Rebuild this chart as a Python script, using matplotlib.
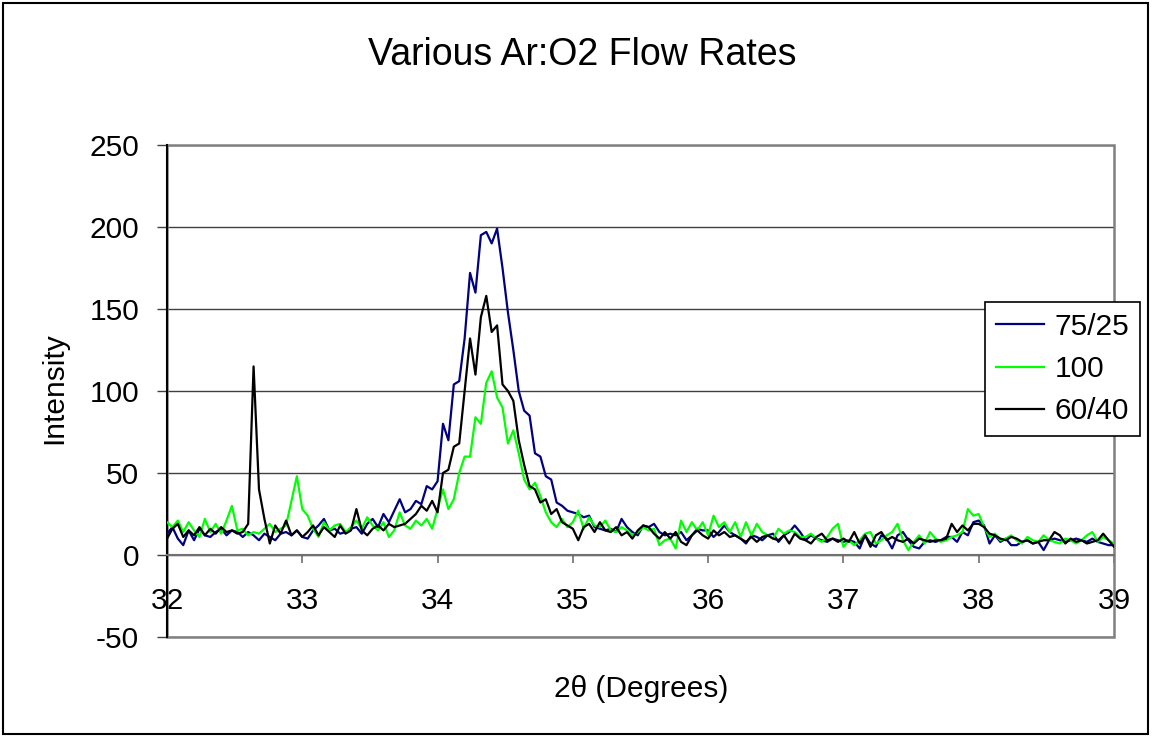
import numpy as np
import matplotlib
matplotlib.use("Agg")
import matplotlib.pyplot as plt
from matplotlib.patches import Rectangle

# XRD scans, 2theta from 32 to 39 deg, one row per degree (25 steps of 0.04)
SCAN_START = 32.0
SCAN_STEP = 0.04

flow_75_25 = [
    13, 17, 10, 6, 15, 9, 16, 12, 11, 14, 16, 12, 15, 14, 11, 14, 12, 9, 13, 11, 9, 13, 14, 12, 15,
    11, 10, 15, 18, 22, 15, 16, 13, 14, 16, 17, 13, 19, 22, 17, 25, 20, 27, 34, 26, 28, 33, 31, 42, 40,
    45, 80, 70, 104, 106, 132, 172, 160, 195, 197, 190, 199, 175, 148, 125, 100, 88, 85, 62, 60, 48, 46, 32, 30, 27,
    26, 25, 23, 24, 17, 16, 15, 16, 14, 22, 17, 14, 12, 18, 17, 19, 14, 12, 13, 12, 14, 9, 12, 16, 15,
    15, 11, 14, 18, 14, 12, 10, 7, 12, 11, 9, 12, 13, 8, 12, 14, 18, 14, 9, 12, 10, 9, 8, 10, 9,
    8, 9, 8, 4, 12, 7, 5, 12, 10, 4, 12, 14, 9, 5, 4, 8, 9, 8, 9, 11, 11, 8, 14, 12, 20,
    21, 18, 7, 12, 8, 10, 6, 6, 8, 9, 7, 8, 3, 9, 10, 9, 8, 9, 10, 9, 8, 10, 8, 7, 6,
    6,
]

flow_100 = [
    20, 17, 21, 14, 20, 15, 11, 22, 14, 19, 13, 21, 30, 15, 16, 12, 14, 13, 16, 19, 14, 16, 18, 33, 48,
    28, 24, 16, 11, 20, 15, 18, 19, 14, 17, 21, 16, 23, 18, 15, 20, 11, 15, 26, 18, 16, 21, 18, 22, 16,
    28, 40, 28, 34, 50, 60, 60, 84, 80, 105, 112, 96, 90, 68, 76, 62, 46, 40, 44, 36, 26, 20, 17, 22, 17,
    20, 27, 16, 23, 18, 17, 21, 15, 14, 17, 15, 12, 14, 17, 15, 16, 6, 9, 10, 4, 21, 14, 20, 15, 20,
    12, 24, 17, 20, 14, 20, 11, 20, 12, 19, 14, 12, 10, 16, 13, 15, 14, 11, 11, 13, 10, 8, 11, 16, 19,
    5, 9, 6, 9, 13, 14, 7, 9, 12, 14, 19, 9, 3, 8, 12, 7, 14, 10, 8, 9, 11, 12, 14, 28, 24,
    25, 17, 11, 13, 9, 10, 12, 9, 7, 11, 9, 8, 12, 9, 8, 7, 10, 9, 7, 9, 12, 14, 8, 11, 9,
    7,
]

flow_60_40 = [
    10, 16, 19, 11, 15, 12, 17, 12, 16, 13, 17, 14, 15, 13, 14, 19, 115, 40, 22, 7, 18, 13, 21, 12, 15,
    11, 14, 18, 12, 17, 14, 11, 18, 13, 15, 28, 15, 12, 16, 18, 15, 19, 17, 18, 19, 22, 25, 30, 27, 33,
    26, 50, 52, 66, 68, 100, 132, 110, 145, 158, 136, 140, 104, 100, 94, 70, 55, 42, 40, 32, 34, 25, 28, 20, 18,
    16, 9, 17, 19, 14, 20, 15, 14, 17, 12, 14, 10, 15, 18, 17, 13, 10, 14, 10, 14, 8, 6, 12, 15, 12,
    10, 15, 12, 14, 11, 12, 10, 8, 11, 8, 11, 12, 10, 9, 12, 7, 13, 10, 9, 7, 11, 13, 9, 10, 8,
    10, 8, 14, 7, 12, 5, 12, 14, 9, 11, 9, 8, 10, 7, 10, 9, 8, 9, 9, 10, 19, 14, 18, 15, 19,
    19, 17, 13, 12, 10, 9, 11, 10, 8, 9, 7, 8, 9, 9, 14, 12, 7, 10, 8, 9, 7, 8, 9, 13, 9,
    5,
]

series_labels = ["75/25", "100", "60/40"]
series_colors = ["#000080", "#00ff00", "#000000"]

x_ticks = [32, 33, 34, 35, 36, 37, 38, 39]
y_ticks = [-50, 0, 50, 100, 150, 200, 250]

W, H = 1152, 738


def px_x(x):
    return x / W


def px_y(y):
    return 1 - y / H


def main():
    plt.rcParams["font.family"] = ["Liberation Sans", "DejaVu Sans"]
    plt.rcParams["axes.unicode_minus"] = False
    fig = plt.figure(figsize=(W / 100, H / 100), dpi=100)
    fig.patch.set_facecolor("white")

    # outer chart frame
    fig.patches.append(Rectangle((px_x(3), px_y(734)), px_x(1145), 731 / H,
                                 transform=fig.transFigure, fill=False,
                                 ec="black", lw=1.5))

    ax = fig.add_axes([px_x(167), px_y(637), (1114 - 167) / W, (637 - 145) / H])
    two_theta = SCAN_START + SCAN_STEP * np.arange(len(flow_75_25))

    for values, label, color in zip([flow_75_25, flow_100, flow_60_40], series_labels, series_colors):
        ax.plot(two_theta, values, color=color, lw=1.6, label=label, zorder=3)

    ax.set_xlim(32, 39)
    ax.set_ylim(-50, 250)
    ax.set_xticks(x_ticks)
    ax.set_yticks(y_ticks)
    ax.yaxis.grid(True, color="#404040", lw=1.0)
    ax.set_axisbelow(True)

    # plot area border in grey, value axis in black, category axis crosses at 0
    ax.add_patch(Rectangle((0, 0), 1, 1, transform=ax.transAxes, fill=False,
                           ec="#808080", lw=1.8, zorder=2.4, clip_on=False))
    for side in ("top", "right"):
        ax.spines[side].set_visible(False)
    ax.spines["left"].set_color("black")
    ax.spines["left"].set_linewidth(1.5)
    ax.spines["bottom"].set_position(("data", 0))
    ax.spines["bottom"].set_color("#707070")
    ax.spines["bottom"].set_linewidth(1.5)

    ax.tick_params(axis="x", direction="out", length=6, width=1.2, color="#707070",
                   labelsize=21.5, pad=17)
    ax.tick_params(axis="y", direction="out", length=7, width=1.0, color="#404040",
                   labelsize=21.5, pad=13)

    fig.text(px_x(582), px_y(65), "Various Ar:O2 Flow Rates", ha="center", va="baseline",
             fontsize=27)
    fig.text(px_x(54), px_y(388), "Intensity", rotation=90, ha="center", va="center",
             fontsize=21.5)
    fig.text(px_x(641), px_y(689), "2θ (Degrees)", ha="center", va="center", fontsize=21.5)

    leg = ax.legend(loc="upper left", bbox_to_anchor=(px_x(985), px_y(302)),
                    bbox_transform=fig.transFigure, borderaxespad=0, fontsize=21.5,
                    frameon=True, fancybox=False, handlelength=1.63, handletextpad=0.33,
                    labelspacing=0.48, borderpad=0.36)
    leg.get_frame().set_edgecolor("black")
    leg.get_frame().set_linewidth(1.2)
    leg.get_frame().set_alpha(1.0)

    fig.savefig("out.png", dpi=100)


if __name__ == "__main__":
    main()
